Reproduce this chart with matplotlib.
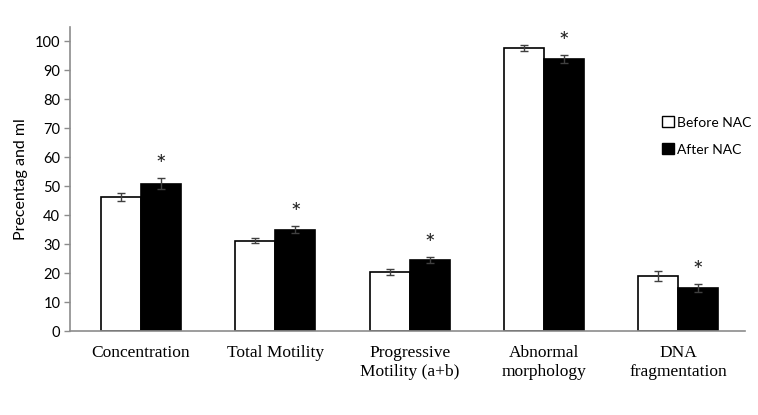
import matplotlib
matplotlib.use("Agg")
import matplotlib.pyplot as plt
import numpy as np
from matplotlib.patches import Patch

categories = ["Concentration", "Total Motility", "Progressive\nMotility (a+b)",
              "Abnormal\nmorphology", "DNA\nfragmentation"]
before_vals = [46.2, 31.2, 20.3, 97.8, 19.0]
before_err = [1.4, 0.9, 1.0, 1.0, 1.8]
after_vals = [50.9, 35.0, 24.4, 93.8, 15.0]
after_err = [2.0, 1.1, 1.0, 1.4, 1.4]
series_names = ["Before NAC", "After NAC"]
yticks = list(range(0, 101, 10))

W, H = 758, 415
fig = plt.figure(figsize=(W / 100, H / 100), dpi=100)
ax = fig.add_axes([70 / W, (H - 331) / H, (745 - 70) / W, (331 - 27) / H])

x = np.arange(len(categories))
bw = 0.298
ekw = dict(ecolor="#404040", elinewidth=1.0, capsize=3, capthick=1.0)
ax.bar(x - bw / 2, before_vals, bw, color="white", edgecolor="black", linewidth=1.2,
       yerr=before_err, error_kw=ekw, label=series_names[0], zorder=2)
ax.bar(x + bw / 2, after_vals, bw, color="black", edgecolor="black", linewidth=1.2,
       yerr=after_err, error_kw=ekw, label=series_names[1], zorder=2)

for xi, v, e in zip(x, after_vals, after_err):
    ax.annotate("*", xy=(xi + bw / 2, v + e), xytext=(0, 9), textcoords="offset points",
                ha="center", va="center", fontsize=18, family="Lato", color="#222222")

ax.set_xlim(-0.529, 4.497)
ax.set_ylim(0, 105)
ax.set_yticks(yticks)
ax.set_yticklabels([str(t) for t in yticks], fontsize=10.5, family="Lato")
ax.set_xticks(x)
ax.set_xticklabels(categories, fontsize=12.5, family="Liberation Serif", linespacing=1.25)
ax.tick_params(axis="x", length=0, pad=10)
ax.tick_params(axis="y", length=4, width=1, color="#8c8c8c", direction="out", pad=3)

for s in ["top", "right"]:
    ax.spines[s].set_visible(False)
for s in ["left", "bottom"]:
    ax.spines[s].set_color("#8c8c8c")
    ax.spines[s].set_linewidth(1.2)

ax.set_ylabel("Precentag and ml", fontsize=11.5, family="Lato", labelpad=5)

handles = [Patch(facecolor="white", edgecolor="black", linewidth=1.0),
           Patch(facecolor="black", edgecolor="black", linewidth=1.0)]
fig.legend(handles, series_names, loc="center left",
           bbox_to_anchor=(662 / W, (H - 136) / H), frameon=False,
           prop={"family": "Lato", "size": 10}, handlelength=0.85, handleheight=0.85,
           handletextpad=0.25, labelspacing=1.05, borderpad=0, borderaxespad=0)

fig.savefig("out.png", dpi=100)
